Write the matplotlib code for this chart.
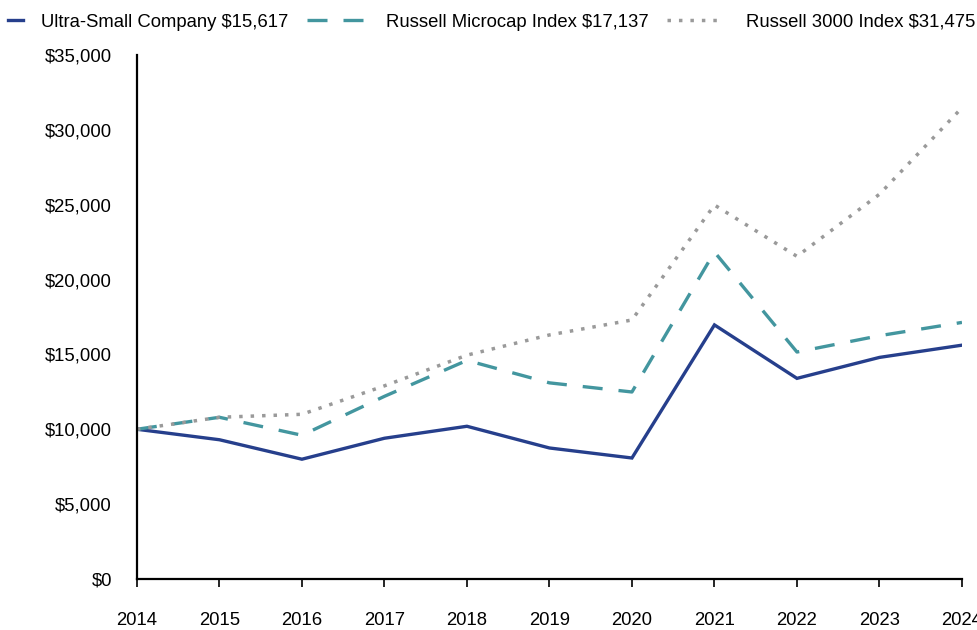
import matplotlib
matplotlib.use("Agg")
import matplotlib.pyplot as plt
from matplotlib.ticker import FuncFormatter

plt.rcParams['font.family'] = ['Liberation Sans', 'DejaVu Sans']

years = [2014, 2015, 2016, 2017, 2018, 2019, 2020, 2021, 2022, 2023, 2024]
ultra_small = [10000, 9300, 8000, 9400, 10200, 8750, 8080, 16970, 13400, 14800, 15617]
microcap = [10000, 10800, 9600, 12200, 14600, 13100, 12490, 21840, 15160, 16250, 17137]
russell_3000 = [10000, 10800, 11000, 12900, 14950, 16300, 17300, 24980, 21550, 25700, 31475]

labels = ["Ultra-Small Company $15,617", "Russell Microcap Index $17,137",
          "Russell 3000 Index $31,475"]

NAVY = '#263f8c'
TEAL = '#43969f'
GREY = '#9a9a9a'
FS = 13.3

fig = plt.figure(figsize=(9.78, 6.3), dpi=100)
ax = fig.add_axes([0.140, 0.081, 0.8436, 0.8317])

l1, = ax.plot(years, ultra_small, color=NAVY, lw=2.4, solid_joinstyle='miter')
l2, = ax.plot(years, microcap, color=TEAL, lw=2.4, linestyle=(0, (6, 4.8)))
l3, = ax.plot(years, russell_3000, color=GREY, lw=2.5, linestyle=(0, (1, 2.3)))

ax.set_xlim(2014, 2024)
ax.set_ylim(0, 35000)
ax.set_xticks(years)
ax.set_yticks(range(0, 35001, 5000))
ax.yaxis.set_major_formatter(FuncFormatter(lambda v, p: "${:,.0f}".format(v)))

for s in ['top', 'right']:
    ax.spines[s].set_visible(False)
for s in ['left', 'bottom']:
    ax.spines[s].set_linewidth(1.6)
    ax.spines[s].set_color('black')

ax.tick_params(axis='x', direction='out', length=6, width=1.2, pad=18, labelsize=FS)
ax.tick_params(axis='y', length=0, pad=18, labelsize=FS)

# separate legends so each handle can have its own length
specs = [(l1, labels[0], 0.008, 0.8, 1.0),
         (l2, labels[1], 0.314, 3.0, 1.25),
         (l3, labels[2], 0.682, 2.9, 1.35)]
for line, lab, x, hl, tp in specs:
    fig.legend([line], [lab], loc='center left', bbox_to_anchor=(x, 0.965),
               frameon=False, fontsize=FS, handlelength=hl, handletextpad=tp,
               borderpad=0, borderaxespad=0)

fig.savefig("out.png", dpi=100)
